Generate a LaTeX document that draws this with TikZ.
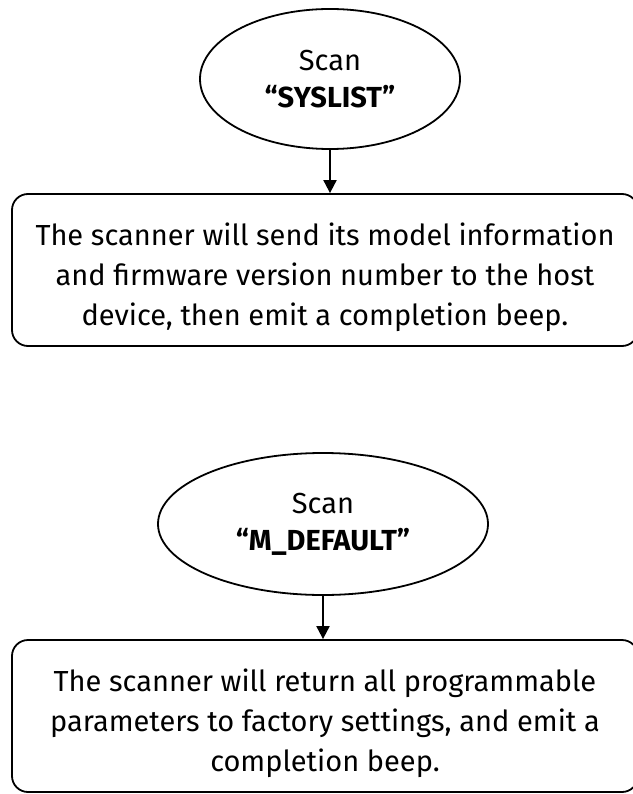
\documentclass[tikz,border=0pt]{standalone}
\usepackage{fontspec}
\setmainfont{Fira Sans}
\usetikzlibrary{shapes.geometric,positioning,arrows.meta}
\newcommand{\topgap}{\rule{0pt}{38pt}}

\begin{document}
\begin{tikzpicture}[x=1pt,y=1pt,node distance=192pt,on grid,
    scan/.style={ellipse,draw,line width=1.8pt,inner sep=0pt,align=center,
      font=\fontsize{29}{37}\selectfont},
    msg/.style={rectangle,draw,rounded corners=16pt,line width=1.8pt,
      minimum width=626pt,minimum height=152pt,align=center,
      font=\fontsize{29}{40}\selectfont}]
        \useasboundingbox (0,0) rectangle (632,-794);
        \node[scan,minimum width=260pt,minimum height=140pt] (scan_1) at (330,-79) {Scan\\\textbf{“SYSLIST”}};
        \node[msg] (msg_1) [below=191pt of scan_1,xshift=-5pt] {\topgap The scanner will send its model information\\and firmware version number to the host\\device, then emit a completion beep.};
        \node[scan,minimum width=330pt,minimum height=142pt] (scan_2) at (323,-524) {Scan\\\textbf{“M\_DEFAULT”}};
        \node[msg] (msg_2) [below=192pt of scan_2,xshift=2pt] {\topgap The scanner will return all programmable\\parameters to factory settings, and emit a\\completion beep.};
             \path[-{Triangle[length=13pt,width=13pt]},line width=2pt]
        (scan_1) edge (scan_1.south |- msg_1.north)
        (scan_2) edge (scan_2.south |- msg_2.north);
\end{tikzpicture}
\end{document}
